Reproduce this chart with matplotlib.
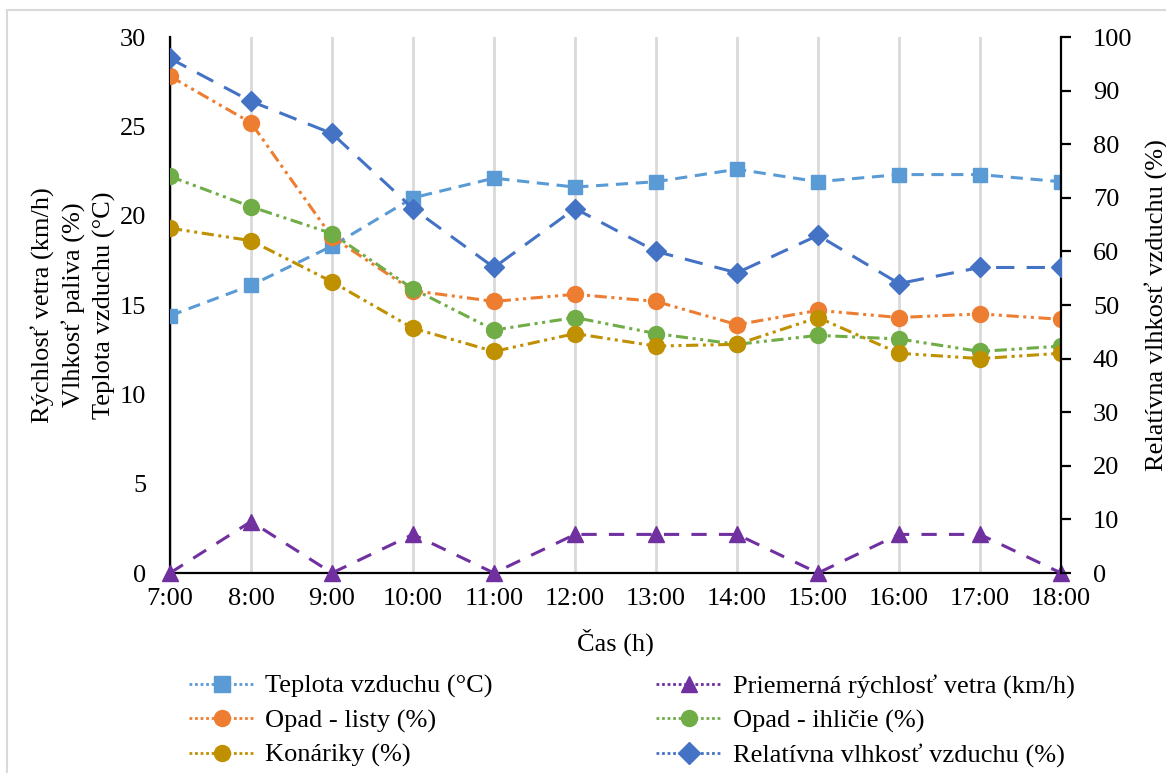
import matplotlib
matplotlib.use("Agg")
import matplotlib.pyplot as plt
from matplotlib.patches import Rectangle
from matplotlib.lines import Line2D

plt.rcParams['font.family'] = ['Liberation Serif', 'DejaVu Serif']

hours = ["7:00", "8:00", "9:00", "10:00", "11:00", "12:00",
         "13:00", "14:00", "15:00", "16:00", "17:00", "18:00"]
teplota = [14.4, 16.1, 18.3, 21.0, 22.1, 21.6, 21.9, 22.6, 21.9, 22.3, 22.3, 21.9]
vietor = [0, 2.88, 0, 2.16, 0, 2.16, 2.16, 2.16, 0, 2.16, 2.16, 0]
listy = [27.8, 25.2, 18.8, 15.8, 15.2, 15.6, 15.2, 13.9, 14.7, 14.3, 14.5, 14.2]
ihlicie = [22.2, 20.5, 19.0, 15.9, 13.6, 14.3, 13.4, 12.8, 13.3, 13.1, 12.4, 12.7]
konariky = [19.3, 18.6, 16.3, 13.7, 12.4, 13.4, 12.7, 12.8, 14.3, 12.3, 12.0, 12.3]
vlhkost = [96, 88, 82, 68, 57, 68, 60, 56, 63, 54, 57, 57]

labels = ["Teplota vzduchu (°C)", "Priemerná rýchlosť vetra (km/h)",
          "Opad - listy (%)", "Opad - ihličie (%)",
          "Konáriky (%)", "Relatívna vlhkosť vzduchu (%)"]

W, H = 1166, 773
fig = plt.figure(figsize=(W / 100, H / 100), dpi=100)
ax = fig.add_axes([170 / W, 1 - 573 / H, (1061 - 170) / W, (573 - 37) / H])
ax2 = ax.twinx()

x = list(range(len(hours)))
fs = 19
ms = 11.5
ddot = (0, (4, 1.5, 1, 1.5, 1, 1.5))

c_t, c_w, c_l, c_i, c_k, c_h = "#5B9BD5", "#7030A0", "#ED7D31", "#70AD47", "#BF9000", "#4472C4"

l1, = ax.plot(x, teplota, color=c_t, lw=2.2, ls=(0, (4, 2.5)), marker='s', ms=ms - 1,
              markeredgecolor=c_t, label=labels[0], zorder=5)
l2, = ax.plot(x, vietor, color=c_w, lw=2.2, ls=(0, (5, 4)), marker='^', ms=ms,
              markeredgecolor=c_w, label=labels[1], clip_on=False, zorder=5)
l3, = ax.plot(x, listy, color=c_l, lw=2.2, ls=ddot, marker='o', ms=ms,
              markeredgecolor=c_l, label=labels[2], zorder=5)
l4, = ax.plot(x, ihlicie, color=c_i, lw=2.2, ls=ddot, marker='o', ms=ms,
              markeredgecolor=c_i, label=labels[3], zorder=5)
l5, = ax.plot(x, konariky, color=c_k, lw=2.2, ls=ddot, marker='o', ms=ms,
              markeredgecolor=c_k, label=labels[4], zorder=5)
l6, = ax2.plot(x, vlhkost, color=c_h, lw=2.2, ls=(0, (6, 4)), marker='D', ms=ms - 1.5,
               markeredgecolor=c_h, label=labels[5], zorder=5)

ax.set_xlim(0, len(hours) - 1)
ax.set_ylim(0, 30)
ax2.set_ylim(0, 100)
ax.set_yticks(range(0, 31, 5))
ax2.set_yticks(range(0, 101, 10))
ax.set_xticks(x)
ax.set_xticklabels(hours)

ax.grid(axis='x', color='#D9D9D9', lw=2)
ax.set_axisbelow(True)

for a in (ax, ax2):
    a.spines['top'].set_visible(False)
    for s in a.spines.values():
        s.set_linewidth(1.6)
        s.set_color('black')
ax.spines['right'].set_visible(False)
ax2.spines['left'].set_visible(False)
ax2.spines['bottom'].set_visible(False)

ax.tick_params(axis='y', length=0, labelsize=fs, pad=17)
ax.tick_params(axis='x', length=0, labelsize=fs, pad=11)
ax2.tick_params(axis='y', length=7, width=1.6, labelsize=fs, pad=16, direction='out')

ax.set_xlabel("Čas (h)", fontsize=fs, labelpad=13)
ax.set_ylabel("Rýchlosť vetra (km/h)\nVlhkosť paliva (%)\nTeplota vzduchu (°C)",
              fontsize=fs, labelpad=3, linespacing=1.42)
ax2.set_ylabel("Relatívna vlhkosť vzduchu (%)", fontsize=fs, rotation=90, va='center')
ax2.yaxis.set_label_coords((1156 - 170) / (1061 - 170), 0.5)

handles = [l1, l3, l5, l2, l4, l6]
leg_handles = []
for h in handles:
    leg_handles.append(Line2D([], [], color=h.get_color(), lw=2, ls=(0, (1, 1)),
                              marker=h.get_marker(), ms=ms, markeredgecolor=h.get_color(),
                              markerfacecolor=h.get_color()))
fig.legend(leg_handles, [h.get_label() for h in handles], ncol=2,
           loc='upper left', bbox_to_anchor=(178 / W, 1 - 664 / H),
           frameon=False, fontsize=fs, handlelength=2.5, handletextpad=0.4,
           columnspacing=6.2, labelspacing=0.4, borderaxespad=0)

fig.patches.append(Rectangle((7 / W, -0.1), 1.1, 1 - 10 / H + 0.1, transform=fig.transFigure,
                             fill=False, edgecolor='#D9D9D9', lw=1.5, zorder=0))

fig.savefig("out.png", dpi=100)
